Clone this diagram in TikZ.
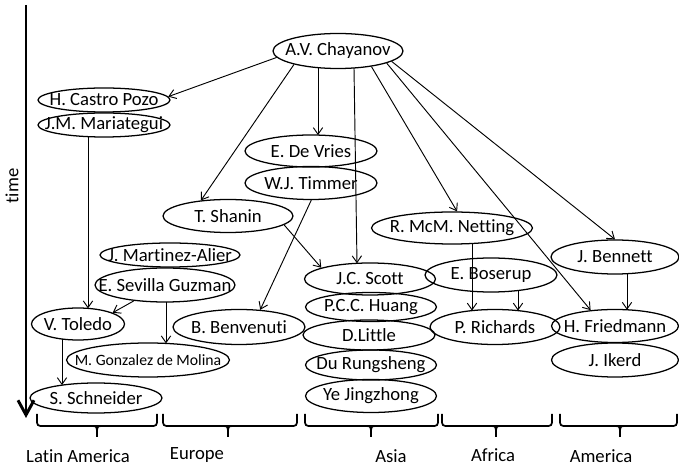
\documentclass[tikz,border=0pt]{standalone}
\usepackage{fontspec}
\setmainfont[Ligatures={NoCommon}]{Carlito}
\usetikzlibrary{shapes.geometric,arrows.meta,calc}
\newcommand{\Nm}[1]{\makebox[0pt][c]{#1}}
\tikzset{
  pers/.style 2 args={ellipse, draw, line width=0.95pt, inner sep=0pt,
    minimum width=#1*0.75pt, minimum height=#2*0.75pt},
  arr/.style={line width=0.7pt, -{Straight Barb[length=5pt,width=7pt]}},
  brc/.style={line width=1.3pt, rounded corners=2.5pt},
  lab/.style={inner sep=0pt}
}
\begin{document}
\begin{tikzpicture}[x=0.75pt, y=-0.75pt, font=\fontsize{14}{16}\selectfont]
\useasboundingbox (0,0) rectangle (679,466);

% time axis
\coordinate (ttop) at (26,5);
\coordinate (tbot) at (26,418);
\draw[line width=2.2pt, -{Straight Barb[length=11pt,width=12pt]}] (ttop) -- (tbot);
\node[rotate=90, lab] (time) at (12,186) {time};

% persons
\node[pers={130}{35}] (chay) at (338,51) {\Nm{A.V. Chayanov}};
\node[pers={132}{24}] (castro) at (104,100) {\Nm{H. Castro Pozo}};
\node[pers={132}{24}] (mariat) at (104,125) {\Nm{J.M. Mariategui}};
\node[pers={132}{32}] (devries) at (311,151) {\Nm{E. De Vries}};
\node[pers={132}{33}] (timmer) at (311,183) {\Nm{W.J. Timmer}};
\node[pers={130}{33}] (shanin) at (228,216) {\Nm{T. Shanin}};
\node[pers={161}{32}] (netting) at (452,228) {\Nm{R. McM. Netting}};
\node[pers={128}{34}] (bennett) at (615,257) {\Nm{J. Bennett}};
\node[pers={140}{24}] (martinez) at (170,255) {\Nm{J. Martinez-Alier}};
\node[pers={140}{34}] (sevilla) at (165,285) {\Nm{E. Sevilla Guzman}};
\node[pers={131}{32}] (scott) at (370,279) {\Nm{J.C. Scott}};
\node[pers={132}{34}] (boserup) at (491,275) {\Nm{E. Boserup}};
\node[pers={93}{32}] (toledo) at (78,324) {\Nm{V. Toledo}};
\node[pers={132}{35}] (benvenuti) at (239,327) {\Nm{B. Benvenuti}};
\node[pers={131}{29}] (huang) at (371,307) {\Nm{P.C.C. Huang}};
\node[pers={132}{30}] (little) at (369,335) {\Nm{D.Little}};
\node[pers={131}{30}] (rung) at (371,365) {\Nm{Du Rungsheng}};
\node[pers={131}{33}] (ye) at (371,396) {\Nm{Ye Jingzhong}};
\node[pers={130}{35}] (richards) at (495,327) {\Nm{P. Richards}};
\node[pers={127}{33}] (friedmann) at (615,326) {\Nm{H. Friedmann}};
\node[pers={127}{34}] (ikerd) at (615,360) {\Nm{J. Ikerd}};
\node[pers={163}{34}, font=\fontsize{11.8}{14}\selectfont] (gonzalez) at (148,360) {\Nm{M. Gonzalez de Molina}};
\node[pers={132}{30}] (schneider) at (96,398) {\Nm{S. Schneider}};

% connectors
\draw[arr] (chay.186) -- (castro.3);
\draw[arr] (chay.197) -- (shanin.150);
\draw[arr] ($(chay.center)+(-20,16.6)$) -- ($(devries.center)+(7,-15.9)$);
\draw[arr] ($(chay.center)+(16,16.9)$) -- ($(scott.center)+(-13,-15.7)$);
\draw[arr] (chay.-25) -- (netting.73);
\draw[arr] (chay.-14) -- (friedmann.147);
\draw[arr] (chay.-11) -- (bennett.north);
\draw[arr] ($(mariat.center)+(-16,11.6)$) -- ($(toledo.center)+(10,-15.6)$);
\draw[arr] (timmer.-89) -- (benvenuti.39);
\draw[arr] (shanin.-9) -- (scott.167);
\draw[arr] (sevilla.207) -- (toledo.18);
\draw[arr] ($(sevilla.center)+(1,17)$) -- ($(gonzalez.center)+(18,-16.6)$);
\draw[arr] ($(toledo.center)+(-16,15)$) -- ($(schneider.center)+(-34,-12.9)$);
\draw[arr] ($(netting.center)+(20,15.5)$) -- ($(richards.center)+(-23,-16.4)$);
\draw[arr] ($(boserup.center)+(27,15.5)$) -- ($(richards.center)+(23,-16.4)$);
\draw[arr] ($(bennett.center)+(12,16.7)$) -- ($(friedmann.center)+(12,-16.2)$);

% braces
\foreach \xa/\xc/\xb in {37/97/157, 163/228/297, 305/371/438, 442/496/552, 560/620/677}{
  \draw[brc] (\xa,414) -- (\xa,426) -- (\xb,426) -- (\xb,414);
  \draw[line width=1.3pt] (\xc-4,426) .. controls (\xc-1,426) .. (\xc,430) -- (\xc,437);
  \draw[line width=1.3pt] (\xc+4,426) .. controls (\xc+1,426) .. (\xc,430);
}

% region labels
\node[lab] (latam) at (78,456) {Latin America};
\node[lab] (europe) at (197,455) {Europe};
\node[lab] (asia) at (391,456) {Asia};
\node[lab] (africa) at (493,455) {Africa};
\node[lab] (america) at (601,456) {America};
\end{tikzpicture}
\end{document}
